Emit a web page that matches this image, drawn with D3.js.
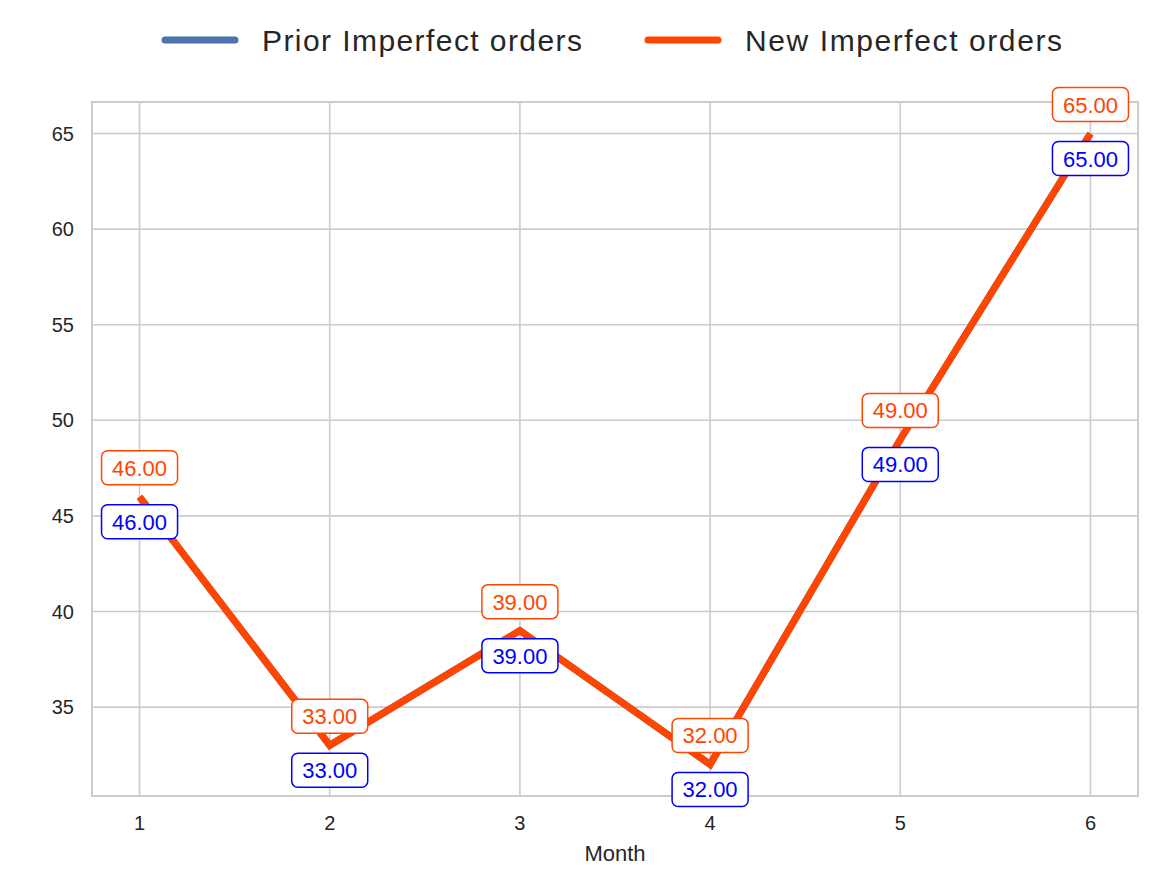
<!DOCTYPE html><html><head><script src="https://cdn.jsdelivr.net/npm/d3@7"></script>
<style>body{margin:0;background:#fff}text{font-family:Arial,"Liberation Sans",sans-serif}</style></head><body>
<script>
const months=[1,2,3,4,5,6];
const prior=[46,33,39,32,49,65];
const newer=[46,33,39,32,49,65];
const yTicks=[35,40,45,50,55,60,65];
const W=1152,H=881,L=92,R=1138,T=102,B=796;
const svg=d3.select("body").append("svg").attr("width",W).attr("height",H);
const x=d3.scaleLinear().domain([0.75,6.25]).range([L,R]);
const y=d3.scaleLinear().domain([30.35,66.65]).range([B,T]);
const g=svg.append("g");
g.selectAll(".vx").data(months).join("line").attr("x1",d=>x(d)).attr("x2",d=>x(d)).attr("y1",T).attr("y2",B).attr("stroke","#cccccc").attr("stroke-width",1.6);
g.selectAll(".hy").data(yTicks).join("line").attr("y1",d=>y(d)).attr("y2",d=>y(d)).attr("x1",L).attr("x2",R).attr("stroke","#cccccc").attr("stroke-width",1.6);
svg.append("rect").attr("x",L).attr("y",T).attr("width",R-L).attr("height",B-T).attr("fill","none").attr("stroke","#cccccc").attr("stroke-width",2);
svg.selectAll(".xt").data(months).join("text").attr("x",d=>x(d)).attr("y",B+34).attr("text-anchor","middle").attr("font-size",20).attr("fill","#262626").text(d=>d);
svg.selectAll(".yt").data(yTicks).join("text").attr("x",L-18).attr("y",d=>y(d)+7).attr("text-anchor","end").attr("font-size",20).attr("fill","#262626").text(d=>d);
svg.append("text").attr("x",(L+R)/2).attr("y",861).attr("text-anchor","middle").attr("font-size",22).attr("fill","#262626").text("Month");
const line=d3.line().x((d,i)=>x(months[i])).y(d=>y(d));
svg.append("path").datum(prior).attr("d",line).attr("fill","none").attr("stroke","#4c72b0").attr("stroke-width",7);
svg.append("path").datum(newer).attr("d",line).attr("fill","none").attr("stroke","#FF4500").attr("stroke-width",7);
function labels(data,col,dy){
  const gg=svg.append("g");
  data.forEach((v,i)=>{
    const cx=x(months[i]),cy=y(v)+dy;
    gg.append("rect").attr("x",cx-38).attr("y",cy-17).attr("width",76).attr("height",34).attr("rx",6).attr("fill","#fff").attr("stroke",col).attr("stroke-width",1.5);
    gg.append("text").attr("x",cx).attr("y",cy+8).attr("text-anchor","middle").attr("font-size",22).attr("fill",col).text(v.toFixed(2));
  });
}
labels(prior,"#0000ff",25);
labels(newer,"#FF4500",-29);
const leg=[["Prior Imperfect orders","#4c72b0",165,320],["New Imperfect orders","#FF4500",648,317]];
leg.forEach(([t,c,lx,tl])=>{
  svg.append("line").attr("x1",lx).attr("x2",lx+70).attr("y1",40).attr("y2",40).attr("stroke",c).attr("stroke-width",7).attr("stroke-linecap","round");
  svg.append("text").attr("x",lx+97).attr("y",51).attr("font-size",30).attr("textLength",tl).attr("fill","#262626").text(t);
});
</script></body></html>
